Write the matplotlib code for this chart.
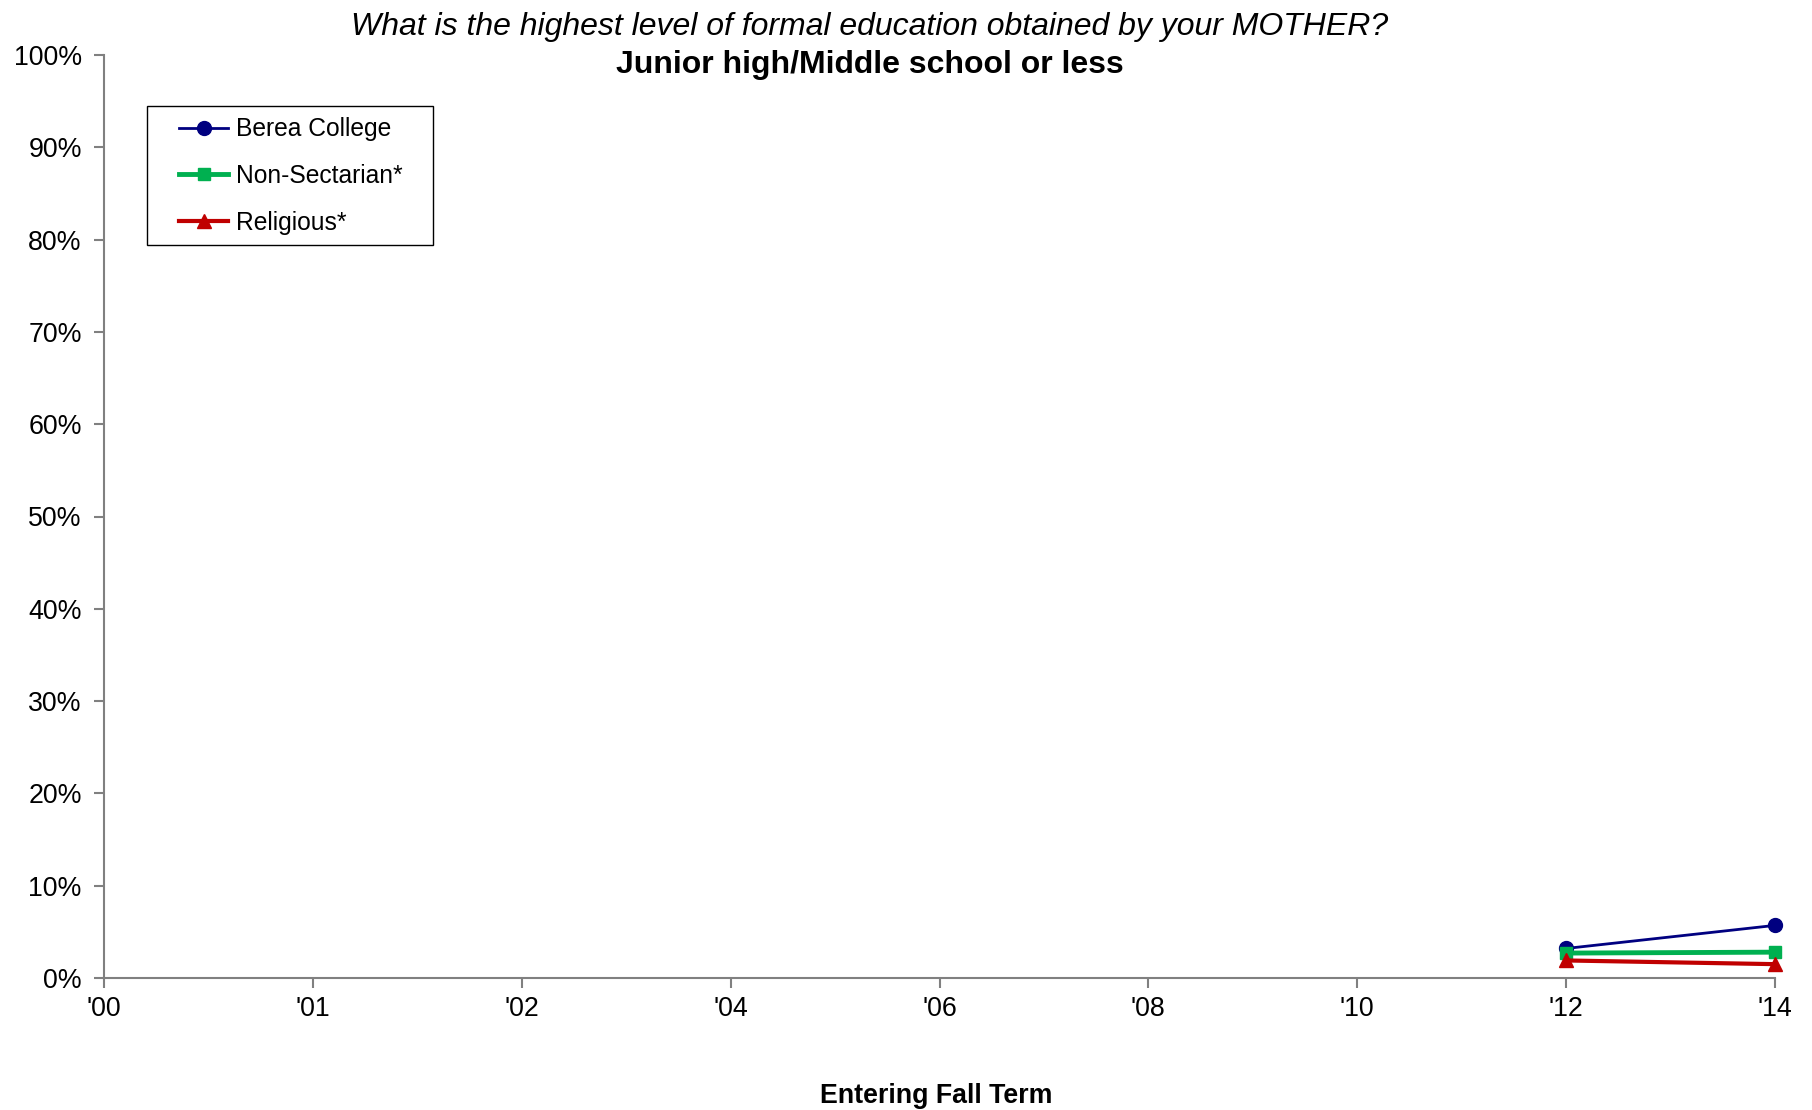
import matplotlib.pyplot as plt
from matplotlib.patches import Rectangle
from matplotlib.ticker import PercentFormatter

plt.rcParams['font.family'] = ['Liberation Sans', 'DejaVu Sans']

# data
years = ["'00", "'01", "'02", "'04", "'06", "'08", "'10", "'12", "'14"]
berea = [None, None, None, None, None, None, None, 3.2, 5.7]
non_sectarian = [None, None, None, None, None, None, None, 2.7, 2.8]
religious = [None, None, None, None, None, None, None, 1.9, 1.5]

x = list(range(len(years)))

def clean(vals):
    return [float('nan') if v is None else v for v in vals]

fig = plt.figure(figsize=(18.12, 11.10), dpi=100)
ax = fig.add_axes([104 / 1812, 1 - 978 / 1110, (1775 - 104) / 1812, (978 - 55) / 1110])

ax.plot(x, clean(berea), color='#000080', lw=2, marker='o', ms=10, label='Berea College')
ax.plot(x, clean(non_sectarian), color='#00B050', lw=3.5, marker='s', ms=9, label='Non-Sectarian*')
ax.plot(x, clean(religious), color='#C00000', lw=3, marker='^', ms=10, label='Religious*')

ax.set_xlim(0, len(years) - 1)
ax.set_ylim(0, 100)
ax.set_xticks(x)
ax.set_xticklabels(years)
ax.set_yticks(range(0, 101, 10))
ax.yaxis.set_major_formatter(PercentFormatter(decimals=0))

for s in ['top', 'right']:
    ax.spines[s].set_visible(False)
for s in ['left', 'bottom']:
    ax.spines[s].set_color('#808080')
    ax.spines[s].set_linewidth(1.5)
ax.tick_params(axis='both', direction='out', length=7, width=1.5, color='#808080',
               labelsize=19.3)
ax.tick_params(axis='x', pad=6)
ax.tick_params(axis='y', pad=9)
for line in ax.get_lines():
    line.set_clip_on(False)

# legend box drawn separately so the padding can differ horizontally/vertically
ax.add_patch(Rectangle((43 / 1671, 1 - 190 / 923), 286 / 1671, 139 / 923,
                       transform=ax.transAxes, fill=False, edgecolor='black', lw=1.0))
leg = ax.legend(loc='upper left', bbox_to_anchor=(75 / 1671, 1 - 62.3 / 923), borderaxespad=0,
                fontsize=17.7, frameon=False, borderpad=0,
                labelspacing=0.92, handlelength=2.0, handletextpad=0.3)

fig.text(870 / 1812, 1 - 26.5 / 1110, 'What is the highest level of formal education obtained by your MOTHER?',
         ha='center', va='center', fontsize=23, style='italic')
fig.text(870 / 1812, 1 - 64.5 / 1110, 'Junior high/Middle school or less',
         ha='center', va='center', fontsize=23, weight='bold')
fig.text(936 / 1812, 1 - 1096 / 1110, 'Entering Fall Term',
         ha='center', va='center', fontsize=19.3, weight='bold')

fig.savefig('out.png', dpi=100)
